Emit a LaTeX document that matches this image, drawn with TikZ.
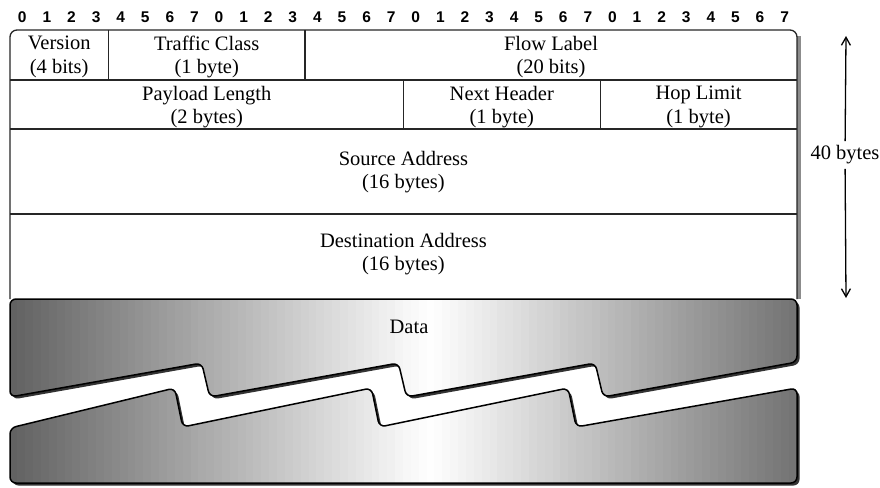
\documentclass[tikz,border=0pt]{standalone}
\usepackage{fontspec}
\setmainfont{Liberation Serif}
\newfontfamily\bitfont{Liberation Sans}
\usetikzlibrary{positioning,arrows.meta}
\tikzset{
every path/.style={line width=1.2pt}
, field/.style={font=\fontsize{20.5}{23.5}\selectfont, align=center, inner sep=0pt}
, bitnum/.style={font=\bitfont\bfseries\fontsize{15.5}{15.5}\selectfont, inner sep=0pt}
, hdrline/.style={draw=black!85, line width=1.3pt}
, pieceedge/.style={draw=black, line width=1.5pt, rounded corners=6pt, path picture={\datagradient}}
, pieceshadow/.style={fill=black!80, rounded corners=6pt, xshift=2.5pt, yshift=-2.5pt}
, sizearrow/.style={-{Straight Barb[length=8pt,width=9pt]}, line width=1.3pt}}
\def\bw{24.59}
\def\xl{10}
\def\xr{797}
\def\upperpiece{(\xl,299) -- (\xr,299) -- (\xr,362)
  -- ({\xl+24*\bw+3},397) -- ({\xl+24*\bw-5},363)
  -- ({\xl+16*\bw+3},397) -- ({\xl+16*\bw-5},363)
  -- ({\xl+8*\bw+3},397) -- ({\xl+8*\bw-5},363)
  -- (\xl,397) -- cycle}
\def\lowerpiece{(\xl,428) -- ({\xl+8*\bw-32},388) -- ({\xl+8*\bw-24},427)
  -- ({\xl+16*\bw-32},388) -- ({\xl+16*\bw-24},427)
  -- ({\xl+24*\bw-32},388) -- ({\xl+24*\bw-24},427)
  -- (\xr,388) -- (\xr,483) -- (\xl,483) -- cycle}
% grey-white-grey strips across the data area
\def\datagradient{%
  \foreach \k in {0,...,99}{
    \pgfmathsetmacro\xa{\xl+\k*7.87}
    \pgfmathsetmacro\xc{\xa+7.87}
    \pgfmathsetmacro\t{(\xa+3.9-430)}
    \pgfmathsetmacro\p{\t<0 ? -\t/420*62 : \t/367*55}
    \fill[black!\p, sharp corners] (\xa-0.5,296) rectangle (\xc+0.5,486);
  }}

\begin{document}
\begin{tikzpicture}[x=1pt,y=-1pt]
\useasboundingbox (0,0) rectangle (880,487);
% bit numbers
\foreach \i in {0,...,31}{
  \pgfmathtruncatemacro\b{mod(\i,8)}
  \node[bitnum] (bit\i) at ({\xl+(\i+0.5)*\bw},17) {\b};
}
% header frame
\fill[black!45] (\xr,36) rectangle (\xr+4,299);
\draw[hdrline, rounded corners=7pt] (\xl,299) -- (\xl,30) -- (\xr,30) -- (\xr,299);
\draw[hdrline] (\xl,80) -- (\xr,80);
\draw[hdrline] (\xl,129) -- (\xr,129);
\draw[hdrline] (\xl,214) -- (\xr,214);
\draw[hdrline] ({\xl+4*\bw},30) -- ({\xl+4*\bw},80);
\draw[hdrline] ({\xl+12*\bw},30) -- ({\xl+12*\bw},80);
\draw[hdrline] ({\xl+16*\bw},80) -- ({\xl+16*\bw},129);
\draw[hdrline] ({\xl+24*\bw},80) -- ({\xl+24*\bw},129);
% fields
\node[field] (ver) at ({\xl+2*\bw},57) {Version\\(4 bits)};
\node[field] (tc) at ({\xl+8*\bw},57) {Traffic Class\\(1 byte)};
\node[field] (flow) at ({\xl+22*\bw},57) {Flow Label\\(20 bits)};
\node[field] (plen) at ({\xl+8*\bw},107) {Payload Length\\(2 bytes)};
\node[field] (nxt) at ({\xl+20*\bw},107) {Next Header\\(1 byte)};
\node[field] (hop) at ({\xl+28*\bw},107) {Hop Limit\\(1 byte)};
\node[field] (src) at ({\xl+16*\bw},172) {Source Address\\(16 bytes)};
\node[field] (dst) at ({\xl+16*\bw},254) {Destination Address\\(16 bytes)};
% data, torn in two
\fill[pieceshadow] \upperpiece;
\fill[pieceshadow] \lowerpiece;
\path[pieceedge] \upperpiece;
\path[pieceedge] \lowerpiece;
\node[field] (data) at (409,327) {Data};
% header size
\node[field, inner sep=4pt] (size) at (845,155) {40 bytes};
\coordinate (sizetop) at (846,36);
\coordinate (sizebot) at (846,298);
\draw[sizearrow] (size) -- (sizetop);
\draw[sizearrow] (size) -- (sizebot);
\end{tikzpicture}
\end{document}
